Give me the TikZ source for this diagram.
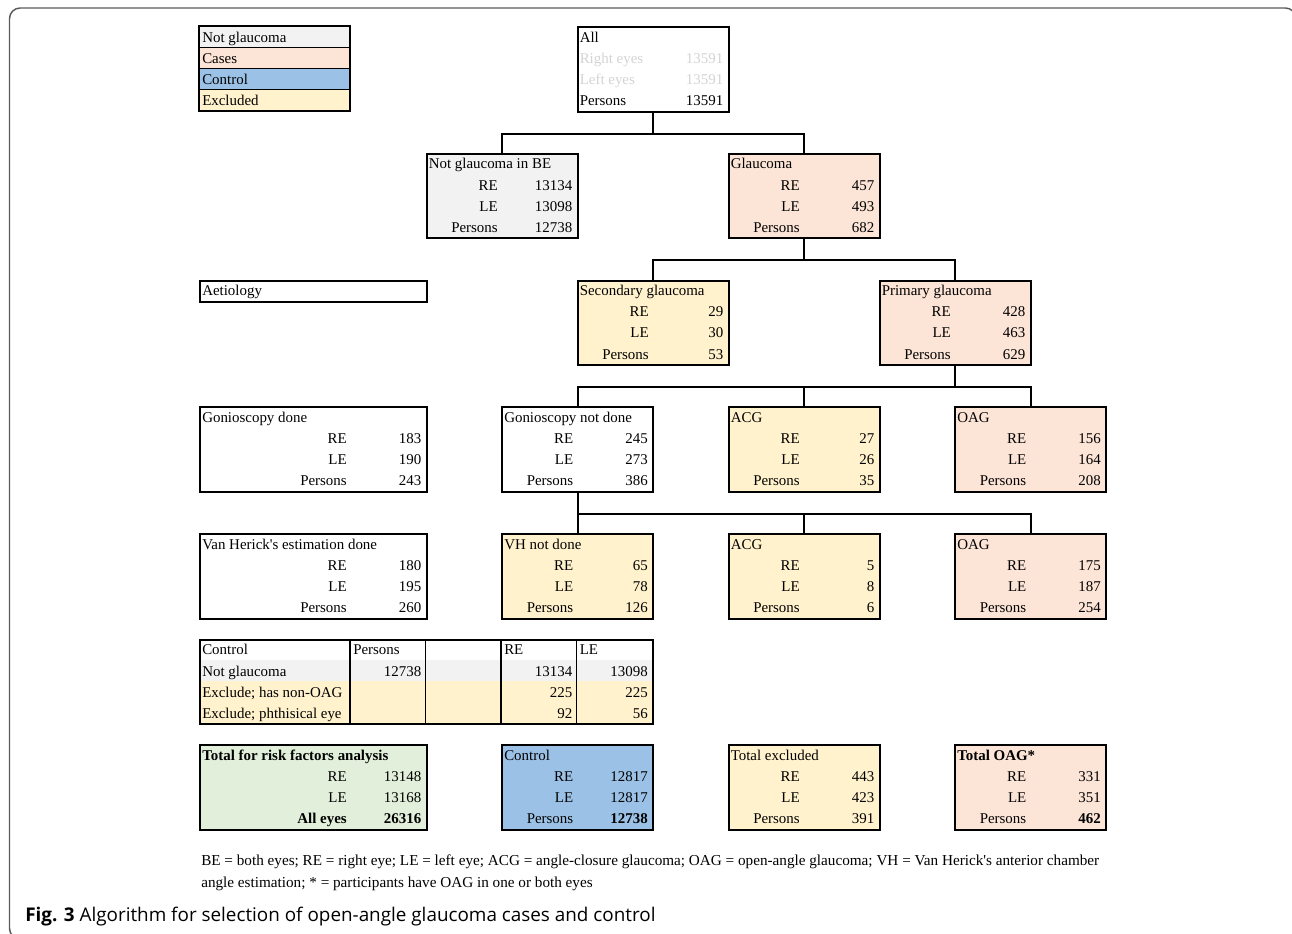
\documentclass[tikz,border=0pt]{standalone}
\usepackage{fontspec}
\setmainfont{Liberation Serif}
\newfontfamily\capfont{Open Sans}
\usetikzlibrary{calc}

\definecolor{notglc}{HTML}{F2F2F2}
\definecolor{casec}{HTML}{FCE4D6}
\definecolor{ctrlc}{HTML}{9BC2E6}
\definecolor{exclc}{HTML}{FFF2CC}
\definecolor{totc}{HTML}{E2EFDA}
\definecolor{faintc}{HTML}{D4D4D4}
\definecolor{framec}{HTML}{5A5A5A}

% sheet grid, in px: column and row boundaries
\newcommand{\cx}[1]{(199+75.5*(#1))}
\newcommand{\ry}[1]{(26+21.13*(#1))}
\def\plab{Persons}

% box with a title row and RE / LE / Persons rows
\newcommand{\statbox}[9]{%
  \node[cell, fill=#5, minimum width={#4*56.625pt}, minimum height={4*15.8475pt}]
    (#1) at ({\cx{#2}},{\ry{#3}}) {};
  \node[ttl] at ({\cx{#2}+3},{\ry{#3+1}-5}) {#6};
  \node[lab] at ({\cx{#2+#4-1}-3},{\ry{#3+2}-5}) {RE};
  \node[lab] at ({\cx{#2+#4-1}-3},{\ry{#3+3}-5}) {LE};
  \node[lab] at ({\cx{#2+#4-1}-3},{\ry{#3+4}-5}) {\plab};
  \node[lab] at ({\cx{#2+#4}-4},{\ry{#3+2}-5}) {#7};
  \node[lab] at ({\cx{#2+#4}-4},{\ry{#3+3}-5}) {#8};
  \node[lab] at ({\cx{#2+#4}-4},{\ry{#3+4}-5}) {#9};
}

\begin{document}
\begin{tikzpicture}[x=0.75pt, y=-0.75pt,
  cell/.style={draw, line width=1.5pt, anchor=north west, inner sep=0pt},
  ttl/.style={anchor=base west, inner sep=0pt, font=\fontsize{11.2}{13}\selectfont},
  lab/.style={anchor=base east, inner sep=0pt, font=\fontsize{11.2}{13}\selectfont},
  link/.style={line width=1.5pt}]
\path[use as bounding box, clip] (0,0) rectangle (1292,934);
\draw[framec, line width=1.1pt, rounded corners=8] (9.5,8) rectangle (1296,939);

% legend
\foreach \r/\c/\t in {0/notglc/Not glaucoma, 1/casec/Cases, 2/ctrlc/Control, 3/exclc/Excluded} {
  \node[cell, line width=0.8pt, fill=\c, minimum width=113.25pt, minimum height=15.8475pt]
    at ({\cx{0}},{\ry{\r}}) {};
  \node[ttl] at ({\cx{0}+3},{\ry{\r+1}-5}) {\t};
}
\draw[line width=1.5pt] ({\cx{0}},{\ry{0}}) rectangle ({\cx{2}},{\ry{4}});

% all participants
\node[cell, fill=white, minimum width=113.25pt, minimum height={4*15.8475pt}]
  (all) at ({\cx{5}},{\ry{0}}) {};
\node[ttl] at ({\cx{5}+3},{\ry{1}-5}) {All};
\node[ttl, faintc] at ({\cx{5}+3},{\ry{2}-5}) {Right eyes};
\node[lab, faintc] at ({\cx{7}-4},{\ry{2}-5}) {13591};
\node[ttl, faintc] at ({\cx{5}+3},{\ry{3}-5}) {Left eyes};
\node[lab, faintc] at ({\cx{7}-4},{\ry{3}-5}) {13591};
\node[ttl] at ({\cx{5}+3},{\ry{4}-5}) {Persons};
\node[lab] at ({\cx{7}-4},{\ry{4}-5}) {13591};

\statbox{notgl}{3}{6}{2}{notglc}{Not glaucoma in BE}{13134}{13098}{12738}
\statbox{glauc}{7}{6}{2}{casec}{Glaucoma}{457}{493}{682}

\node[cell, fill=white, minimum width={3*56.625pt}, minimum height=15.8475pt]
  (aetio) at ({\cx{0}},{\ry{12}}) {};
\node[ttl] at ({\cx{0}+3},{\ry{13}-5}) {Aetiology};
\statbox{second}{5}{12}{2}{exclc}{Secondary glaucoma}{29}{30}{53}
\statbox{primary}{9}{12}{2}{casec}{Primary glaucoma}{428}{463}{629}

\statbox{goniod}{0}{18}{3}{white}{Gonioscopy done}{183}{190}{243}
\statbox{gonion}{4}{18}{2}{white}{Gonioscopy not done}{245}{273}{386}
\statbox{acga}{7}{18}{2}{exclc}{ACG}{27}{26}{35}
\statbox{oaga}{10}{18}{2}{casec}{OAG}{156}{164}{208}

\statbox{vhdone}{0}{24}{3}{white}{Van Herick\textquotesingle s estimation done}{180}{195}{260}
\statbox{vhnot}{4}{24}{2}{exclc}{VH not done}{65}{78}{126}
\statbox{acgb}{7}{24}{2}{exclc}{ACG}{5}{8}{6}
\statbox{oagb}{10}{24}{2}{casec}{OAG}{175}{187}{254}

% control table
\fill[notglc] ({\cx{0}},{\ry{30}}) rectangle ({\cx{6}},{\ry{31}});
\fill[exclc] ({\cx{0}},{\ry{31}}) rectangle ({\cx{6}},{\ry{33}});
\foreach \k in {2,3,4,5}
  \draw[line width=0.8pt] ({\cx{\k}},{\ry{29}}) -- ({\cx{\k}},{\ry{33}});
\node[cell, fill=none, minimum width={6*56.625pt}, minimum height={4*15.8475pt}]
  (ctab) at ({\cx{0}},{\ry{29}}) {};
\foreach \k/\t in {0/Control, 2/Persons, 4/RE, 5/LE}
  \node[ttl] at ({\cx{\k}+3},{\ry{30}-5}) {\t};
\node[ttl] at ({\cx{0}+3},{\ry{31}-5}) {Not glaucoma};
\node[ttl] at ({\cx{0}+3},{\ry{32}-5}) {Exclude; has non-OAG};
\node[ttl] at ({\cx{0}+3},{\ry{33}-5}) {Exclude; phthisical eye};
\node[lab] at ({\cx{3}-4},{\ry{31}-5}) {12738};
\foreach \k/\r/\v in {5/31/13134, 6/31/13098, 5/32/225, 6/32/225, 5/33/92, 6/33/56}
  \node[lab] at ({\cx{\k}-4},{\ry{\r}-5}) {\v};

% totals
\begin{scope}
\def\plab{\textbf{All eyes}}
\statbox{totrf}{0}{34}{3}{totc}{\textbf{Total for risk factors analysis}}{13148}{13168}{\textbf{26316}}
\end{scope}
\statbox{ctrl}{4}{34}{2}{ctrlc}{Control}{12817}{12817}{\textbf{12738}}
\statbox{totex}{7}{34}{2}{exclc}{Total excluded}{443}{423}{391}
\statbox{totoag}{10}{34}{2}{casec}{\textbf{Total OAG*}}{331}{351}{\textbf{462}}

% connectors
\coordinate (j1) at ($(all.south)+(0,21.13)$);
\draw[link] (all.south) -- (j1) -| (notgl.north);
\draw[link] (j1) -| (glauc.north);
\coordinate (j2) at ($(glauc.south)+(0,21.13)$);
\draw[link] (glauc.south) -- (j2) -| (second.north);
\draw[link] (j2) -| (primary.north);
\coordinate (j3) at ($(primary.south)+(0,21.13)$);
\draw[link] (primary.south) -- (j3) -| (gonion.north);
\draw[link] (j3) -| (acga.north);
\draw[link] (j3) -| (oaga.north);
\coordinate (j4) at ($(gonion.south)+(0,21.13)$);
\draw[link] (gonion.south) -- (j4) -| (vhnot.north);
\draw[link] (j4) -| (acgb.north);
\draw[link] (j4) -| (oagb.north);

% notes and caption
\node[anchor=base west, inner sep=0pt, font=\fontsize{11.4}{13}\selectfont]
  (notes) at (201,865) {BE = both eyes; RE = right eye; LE = left eye; ACG = angle-closure glaucoma; OAG = open-angle glaucoma; VH = Van Herick\textquotesingle s anterior chamber};
\node[anchor=base west, inner sep=0pt, font=\fontsize{11.4}{13}\selectfont]
  (notes2) at (201,887) {angle estimation; * = participants have OAG in one or both eyes};
\node[anchor=base west, inner sep=0pt, font=\capfont\fontsize{14.15}{16}\selectfont]
  (caption) at (25,921) {\textbf{Fig. 3} Algorithm for selection of open-angle glaucoma cases and control};
\end{tikzpicture}
\end{document}
